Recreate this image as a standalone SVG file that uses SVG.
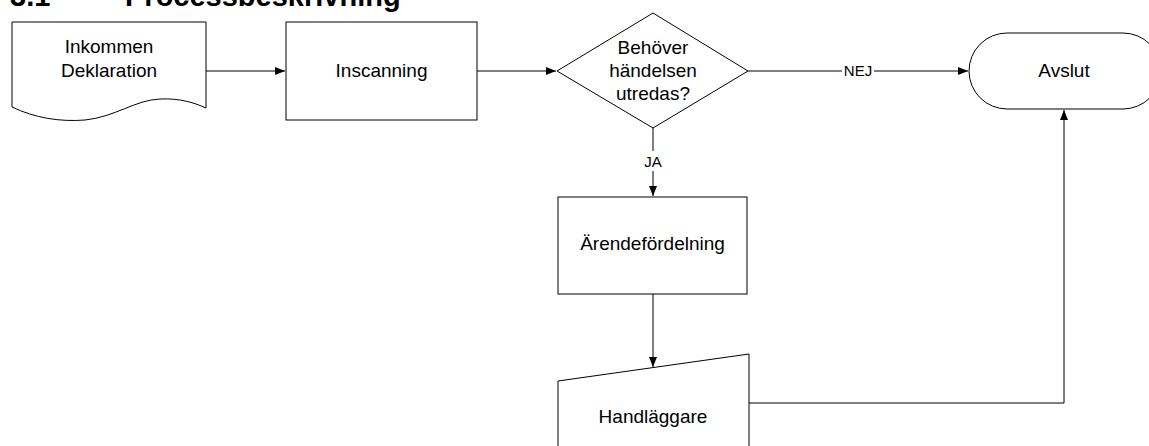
<svg xmlns="http://www.w3.org/2000/svg" width="1149" height="446" viewBox="0 0 1149 446">
<style>
.shape{fill:#fff;stroke:#000;stroke-width:1}
.lbl{font-family:"Liberation Sans",Arial,sans-serif;font-size:19px;fill:#000;text-anchor:middle}
.small{font-family:"Liberation Sans",Arial,sans-serif;font-size:15px;fill:#000;text-anchor:middle}
.title{font-family:"Liberation Sans",Arial,sans-serif;font-size:29px;font-weight:bold;fill:#000}
.conn{fill:none;stroke:#000;stroke-width:1}
</style>
<defs>
<marker id="arr" viewBox="0 0 10 10" refX="10" refY="5" markerWidth="10" markerHeight="10" markerUnits="userSpaceOnUse" orient="auto">
<path d="M0,1 L10,5 L0,9 Z" fill="#000"/>
</marker>
</defs>
<text class="title" x="10" y="6">3.1</text>
<text class="title" x="125" y="6">Processbeskrivning</text>

<g id="connectors">
<path class="conn" d="M206,71 H285" marker-end="url(#arr)"/>
<path class="conn" d="M477,71 H556" marker-end="url(#arr)"/>
<path class="conn" d="M748,71 H842 M874,71 H968" marker-end="url(#arr)"/>
<text class="small" x="858" y="76">NEJ</text>
<path class="conn" d="M653,128 V151 M653,171 V196" marker-end="url(#arr)"/>
<text class="small" x="653" y="167">JA</text>
<path class="conn" d="M653,294 V367" marker-end="url(#arr)"/>
<path class="conn" d="M749,403 H1064 V110" marker-end="url(#arr)"/>
</g>

<g id="inkommen">
<path class="shape" d="M12,22 H206 V108 C195,103 180,98 160,99 C135,100 115,117 85,120 C60,122 35,118 12,107 Z"/>
<text class="lbl" x="109" y="53">Inkommen</text>
<text class="lbl" x="109" y="77">Deklaration</text>
</g>

<g id="inscanning">
<rect class="shape" x="286" y="22" width="191" height="98"/>
<text class="lbl" x="381.5" y="77">Inscanning</text>
</g>

<g id="beslut">
<polygon class="shape" points="653,13 748,71 653,128 557,71"/>
<text class="lbl" x="653" y="54">Behöver</text>
<text class="lbl" x="653" y="77">händelsen</text>
<text class="lbl" x="653" y="100">utredas?</text>
</g>

<g id="avslut">
<rect class="shape" x="969" y="33" width="192" height="76" rx="38" ry="38"/>
<text class="lbl" x="1064" y="77">Avslut</text>
</g>

<g id="arendefordelning">
<rect class="shape" x="558" y="197" width="189" height="97"/>
<text class="lbl" x="652.5" y="250">Ärendefördelning</text>
</g>

<g id="handlaggare">
<polygon class="shape" points="558,381 749,354 749,450 558,450"/>
<text class="lbl" x="653" y="423">Handläggare</text>
</g>
</svg>
